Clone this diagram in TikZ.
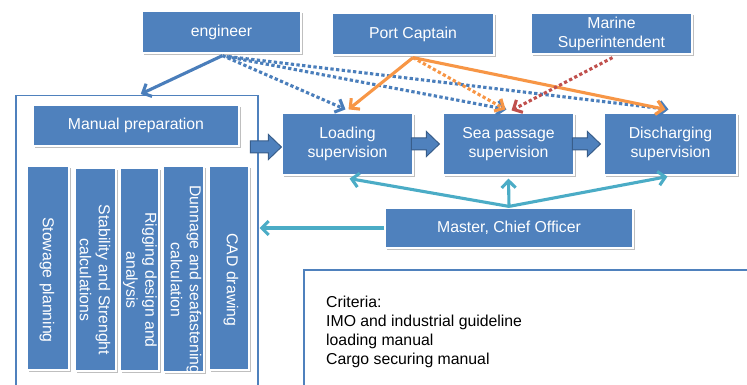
\documentclass[tikz,border=0pt]{standalone}
\usepackage{fontspec}
\setmainfont{Liberation Sans}
\usetikzlibrary{arrows.meta,shadows,calc}
\definecolor{boxblue}{HTML}{4F81BD}
\definecolor{lineblue}{HTML}{4A7EBB}
\definecolor{darkblue}{HTML}{385D8A}
\definecolor{porange}{HTML}{F79646}
\definecolor{pred}{HTML}{C0504D}
\definecolor{pteal}{HTML}{4BACC6}
\begin{document}
\begin{tikzpicture}[x=1pt,y=-1pt,
  txt/.style={font=\fontsize{15.8}{19}\selectfont},
  box/.style={txt, draw=white, line width=1.2pt, fill=boxblue, text=white, inner sep=0pt, align=center,
    drop shadow={shadow xshift=1.5pt,shadow yshift=-2pt,opacity=0.25,fill=black}},
  vtext/.style={txt, text=white, rotate=-90, align=center, inner sep=0pt},
  framebox/.style={draw=boxblue, line width=1.5pt, fill=white, inner sep=0pt},
  arr/.style={line width=3.1pt, -{Straight Barb[length=7pt,width=14pt]}},
  dotline/.style={arr, dash pattern=on 3.3pt off 2.4pt},
  blockar/.style={fill=boxblue, draw=darkblue, line width=1pt, line join=miter}
]
\useasboundingbox (0,0) rectangle (747,385);
\clip (0,0) rectangle (747,385);

% frames
\node[framebox, minimum width=242, minimum height=320, anchor=north west] (frame) at (15,95) {};
\node[framebox, minimum width=500, minimum height=200, anchor=north west] (crit) at (303,269) {};
\node[txt, anchor=north west, align=left, inner sep=0pt] (crittext) at (326,295.5)
  {Criteria:\\IMO and industrial guideline\\loading manual\\Cargo securing manual};

% top boxes
\node[box, minimum width=159, minimum height=42] (engineer) at (221.5,32) {engineer};
\node[box, minimum width=162, minimum height=42] (port) at (413,34) {Port Captain};
\node[box, minimum width=161, minimum height=41] (marine) at (611.5,33.5) {Marine\\Superintendent};

% process boxes
\node[box, minimum width=206, minimum height=41] (manual) at (136,125.5) {Manual preparation};
\node[box, minimum width=131, minimum height=62] (loading) at (347.5,144) {Loading\\supervision};
\node[box, minimum width=131, minimum height=62] (sea) at (508.5,144) {Sea passage\\supervision};
\node[box, minimum width=133, minimum height=62] (disch) at (670.5,144) {Discharging\\supervision};
\node[box, minimum width=248, minimum height=40] (master) at (509,228) {Master, Chief Officer};

% vertical boxes
\node[box, minimum width=42, minimum height=204] (v1) at (48,268) {};
\node[box, minimum width=41, minimum height=203] (v2) at (95.5,269.5) {};
\node[box, minimum width=39, minimum height=203] (v3) at (139.5,269.5) {};
\node[box, minimum width=41, minimum height=206] (v4) at (183.5,269) {};
\node[box, minimum width=40, minimum height=204] (v5) at (229,268) {};
\node[vtext] (t1) at (47,280) {Stowage planning};
\node[vtext] (t2) at (95,280) {Stability and Strenght\\calculations};
\node[vtext] (t3) at (140,280) {Rigging design and\\analysis};
\node[vtext] (t4) at (186,280) {Dunnage and seafastening\\calculation};
\node[vtext] (t5) at (231,280) {CAD drawing};

% block arrows
\draw[blockar] ([yshift=-3pt]loading.west) -- ++(-13pt,12.5pt) -- ++(0pt,-6.5pt) -- ++(-18pt,0pt)
  -- ++(0pt,-12pt) -- ++(18pt,0pt) -- ++(0pt,-6.5pt) -- cycle;
\draw[blockar] ([xshift=-3pt]sea.west) -- ++(-13pt,12.5pt) -- ++(0pt,-6.5pt) -- ++(-15pt,0pt)
  -- ++(0pt,-12pt) -- ++(15pt,0pt) -- ++(0pt,-6.5pt) -- cycle;
\draw[blockar] ([xshift=-3pt]disch.west) -- ++(-13pt,12.5pt) -- ++(0pt,-6.5pt) -- ++(-15pt,0pt)
  -- ++(0pt,-12pt) -- ++(15pt,0pt) -- ++(0pt,-6.5pt) -- cycle;

% engineer arrows
\draw[arr, lineblue] ([xshift=1pt,yshift=-2pt]engineer.south) -- ([xshift=4pt,yshift=1pt]frame.north);
\draw[dotline, lineblue] ([xshift=1pt,yshift=-2pt]engineer.south) -- ([xshift=-2pt,yshift=3pt]loading.north);
\draw[dotline, lineblue] ([xshift=5pt,yshift=-3pt]engineer.south) -- ([xshift=-2pt,yshift=3pt]sea.north);
\draw[dotline, lineblue] ([xshift=7pt,yshift=-3pt]engineer.south) -- ([xshift=-2pt,yshift=3pt]disch.north);

% port captain arrows
\draw[arr, porange] ([yshift=-2pt]port.south) -- ([xshift=1pt,yshift=3pt]loading.north);
\draw[dotline, porange] ([yshift=-2pt]port.south) -- ([xshift=-3pt,yshift=3pt]sea.north);
\draw[arr, porange] ([yshift=-2pt]port.south) -- ([xshift=-5pt,yshift=3pt]disch.north);

% marine superintendent
\draw[dotline, pred] ([xshift=1pt,yshift=-3pt]marine.south) -- ([xshift=3pt,yshift=2pt]sea.north);

% master arrows
\draw[arr, pteal] ([yshift=1pt]master.north) -- ([xshift=2pt,yshift=-3pt]loading.south);
\draw[arr, pteal] ([yshift=1pt]master.north) -- ([yshift=-3pt]sea.south);
\draw[arr, pteal] ([yshift=1pt]master.north) -- ([xshift=-3pt,yshift=-1pt]disch.south);
\draw[arr, pteal] (master.west) -- ([xshift=1pt]frame.east |- master.west);
\end{tikzpicture}
\end{document}
